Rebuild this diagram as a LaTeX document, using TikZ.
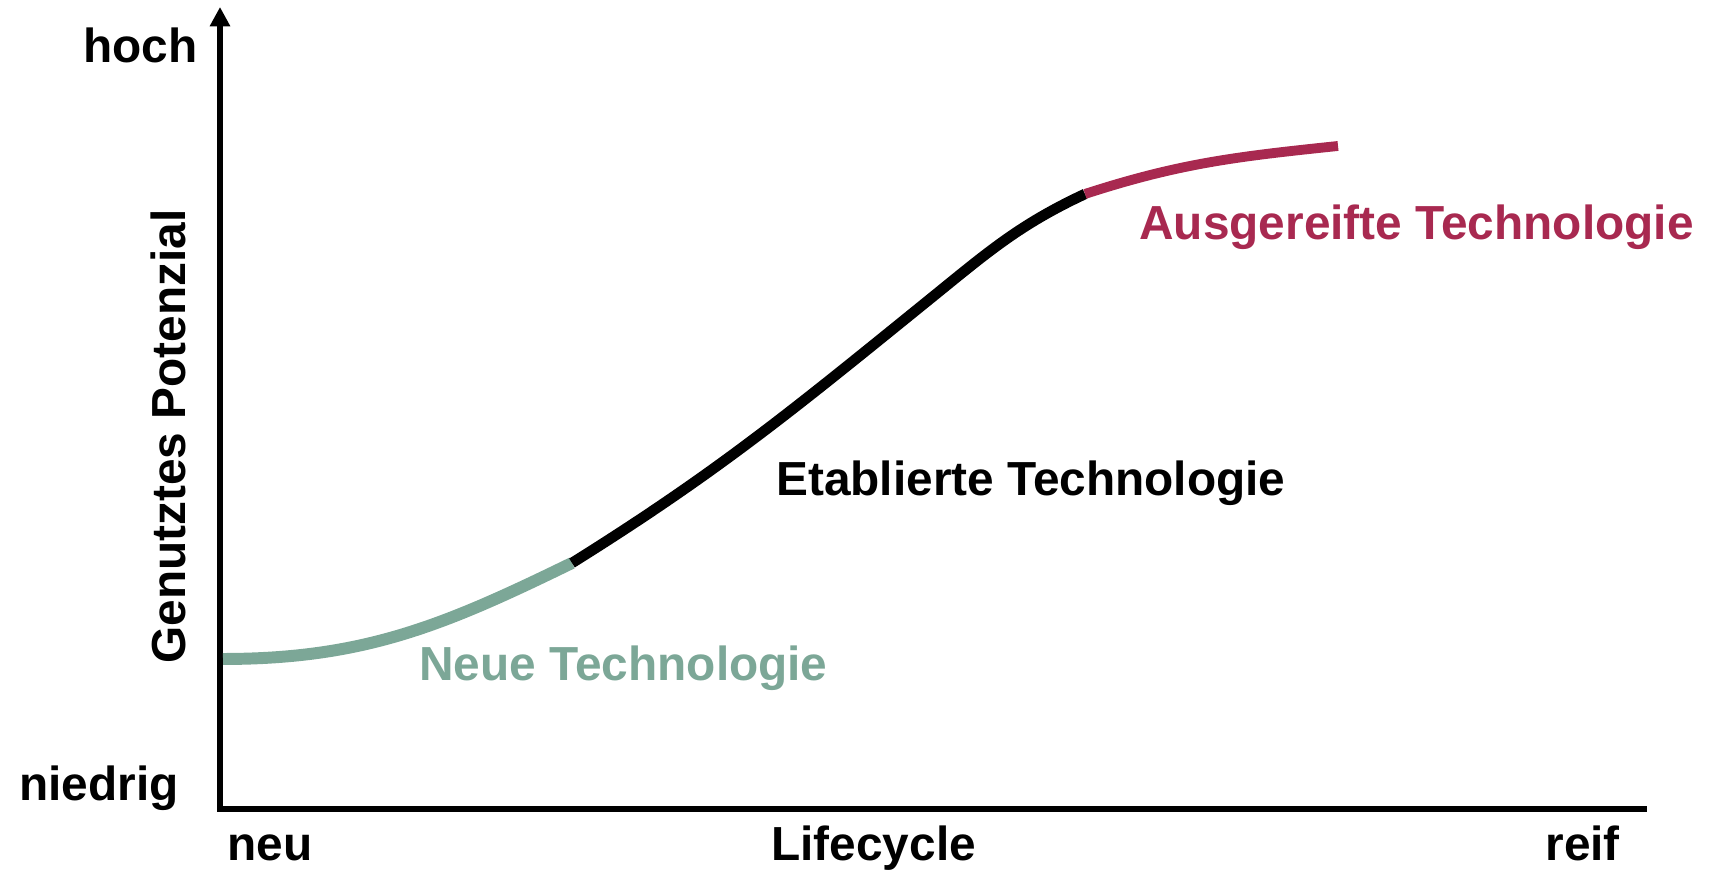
\documentclass[tikz,border=0pt]{standalone}
\usepackage{fontspec}
\setmainfont{Liberation Sans}
\usetikzlibrary{arrows.meta}

\definecolor{neugruen}{RGB}{124,167,151}
\definecolor{reifrot}{RGB}{168,41,80}

\begin{document}
\begin{tikzpicture}[thick,
                    axis/.style={line width=1.45pt, line cap=rect},
                    curve/.style={line width=3pt},
                    label node/.style={inner sep=0pt, anchor=base west,
                                       font=\fontsize{13.6}{16}\selectfont\bfseries}]
    \useasboundingbox (0,0) rectangle (17.09,8.73);

    % axes
    \coordinate (o)   at (2.20,0.64);
    \coordinate (top) at (2.20,8.66);
    \coordinate (end) at (16.44,0.64);
    \draw[axis, -{Triangle[width=5.5pt,length=5.5pt]}] (o) -- (top);
    \draw[axis] (o) -- (end);

    \node[label node] (hoch)    at (0.82,8.10) {hoch};
    \node[label node] (niedrig) at (0.18,0.72) {niedrig};
    \node[label node] (neu)     at (2.26,0.12) {neu};
    \node[label node] (life)    at (7.70,0.12) {Lifecycle};
    \node[label node] (reif)    at (15.44,0.12) {reif};
    \node[label node, rotate=90] (pot) at (1.85,2.08) {Genutztes Potenzial};

    % lifecycle curve
    \coordinate (p0) at (2.23,2.14);
    \coordinate (p1) at (5.72,3.10);
    \coordinate (pm) at (9.30,5.74);
    \coordinate (p2) at (10.85,6.79);
    \coordinate (p3) at (13.38,7.27);

    \draw[curve, neugruen, line width=3.4pt] (p0) to[out=0, in=206] (p1);
    \draw[curve, black] (p1) to[out=32, in=219] (pm) to[out=39, in=205] (p2);
    \draw[curve, reifrot, line width=2.8pt] (p2) to[out=18, in=186] (p3);

    \node[label node, text=neugruen] (neue) at (4.18,1.92) {Neue Technologie};
    \node[label node] (etab) at (7.75,3.77) {Etablierte Technologie};
    \node[label node, text=reifrot] (ausg) at (11.38,6.33) {Ausgereifte Technologie};
\end{tikzpicture}
\end{document}
